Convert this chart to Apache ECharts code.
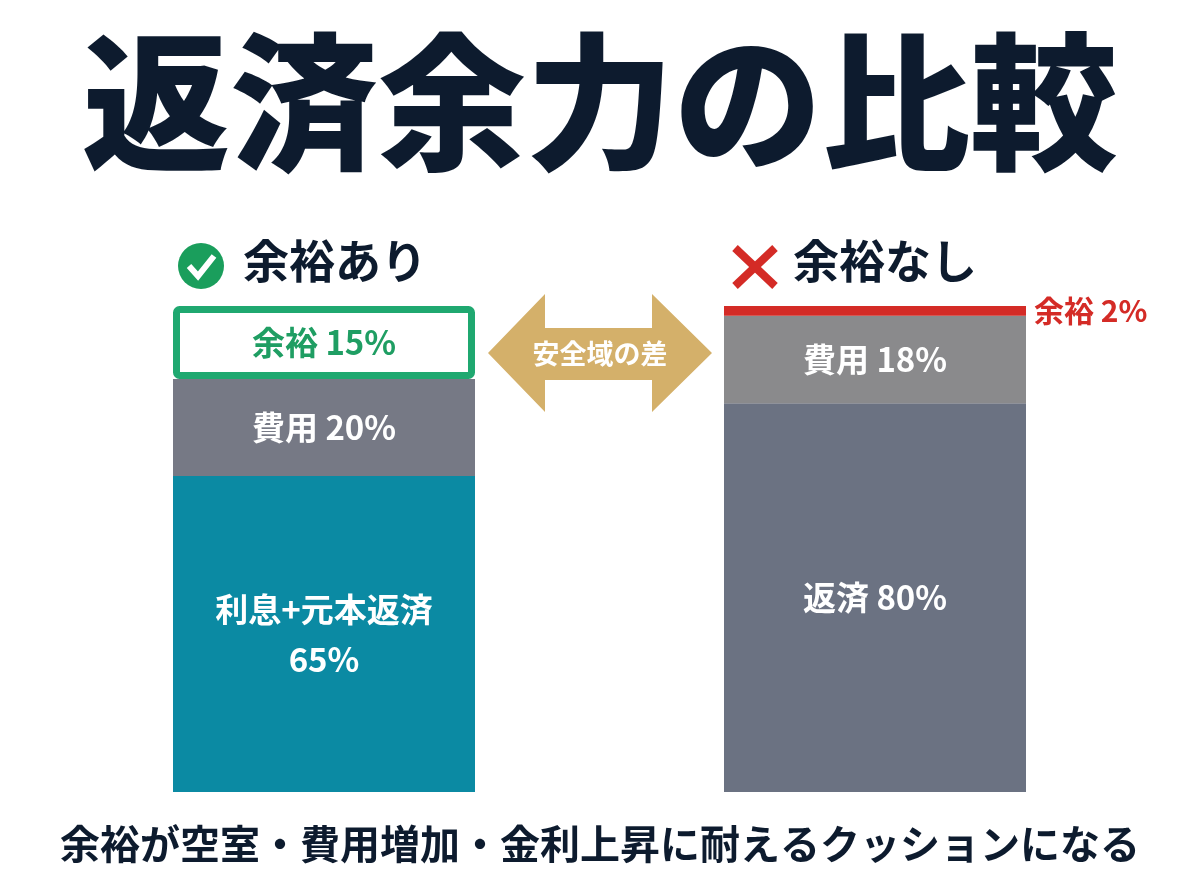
<!DOCTYPE html><html><head><meta charset="utf-8"><script src="https://cdn.jsdelivr.net/npm/echarts@6/dist/echarts.min.js"></script>
<style>body{margin:0;background:#fff}#c{width:1200px;height:896px}</style></head><body><div id="c"></div><script>
const categories=['余裕あり','余裕なし'];
const repay=[65,80];
const cost=[20,18];
const margin=[15,2];
const repayLabels=['利息+元本返済\n{v}%','返済 {v}%'];
const F='"Noto Sans CJK JP","Noto Sans",sans-serif';
const chart=echarts.init(document.getElementById('c'));
const lbl={show:true,color:'#fff',fontSize:33,fontWeight:'bold',fontFamily:F,lineHeight:50};
chart.setOption({
 grid:{left:48.5,right:49.5,top:306,bottom:104},
 xAxis:{type:'category',data:categories,show:false},
 yAxis:{type:'value',min:0,max:100,show:false},
 series:[
  {type:'bar',stack:'a',barWidth:302,data:[
    {value:repay[0],itemStyle:{color:'#0b8aa3'},label:{...lbl,formatter:repayLabels[0].replace('{v}',repay[0])}},
    {value:repay[1],itemStyle:{color:'#6b7282'},label:{...lbl,formatter:repayLabels[1].replace('{v}',repay[1])}}]},
  {type:'bar',stack:'a',data:[
    {value:cost[0],itemStyle:{color:'#767985'},label:{...lbl,formatter:'費用 '+cost[0]+'%'}},
    {value:cost[1],itemStyle:{color:'#8a8a8c'},label:{...lbl,formatter:'費用 '+cost[1]+'%'}}]},
  {type:'bar',stack:'a',data:[
    {value:margin[0],itemStyle:{color:'#fff',borderColor:'#1fa870',borderWidth:7,borderRadius:3},label:{...lbl,color:'#1f9e63',formatter:'余裕 '+margin[0]+'%'}},
    {value:margin[1],itemStyle:{color:'#d42b26'},label:{...lbl,position:'right',distance:8,color:'#d42b26',fontSize:30,formatter:'余裕 '+margin[1]+'%'}}]}
 ],
 graphic:[
  {type:'text',left:'center',top:28,style:{text:'返済余力の比較',font:'900 148px '+F,fill:'#0d1b2e'}},
  {type:'circle',shape:{cx:201,cy:266,r:23},style:{fill:'#1a9e5c'}},
  {type:'polyline',shape:{points:[[189,266],[198,276],[214,256]]},style:{stroke:'#fff',lineWidth:6,fill:null}},
  {type:'text',x:243,y:238,style:{text:'余裕あり',font:'bold 46px '+F,fill:'#0d1b2e'}},
  {type:'line',shape:{x1:735,y1:248,x2:775,y2:286},style:{stroke:'#d42b26',lineWidth:8}},
  {type:'line',shape:{x1:775,y1:248,x2:735,y2:286},style:{stroke:'#d42b26',lineWidth:8}},
  {type:'text',x:793,y:238,style:{text:'余裕なし',font:'bold 46px '+F,fill:'#0d1b2e'}},
  {type:'polygon',shape:{points:[[488,353],[545,294],[545,328],[652,328],[652,294],[712,353],[652,412],[652,380],[545,380],[545,412]]},style:{fill:'#d4b06a'}},
  {type:'text',x:600,y:354,style:{text:'安全域の差',font:'bold 27px '+F,fill:'#fff',align:'center',verticalAlign:'middle'}},
  {type:'text',left:'center',top:824,style:{text:'余裕が空室・費用増加・金利上昇に耐えるクッションになる',font:'bold 40px '+F,fill:'#0d1b2e'}}
 ]
});
</script></body></html>
